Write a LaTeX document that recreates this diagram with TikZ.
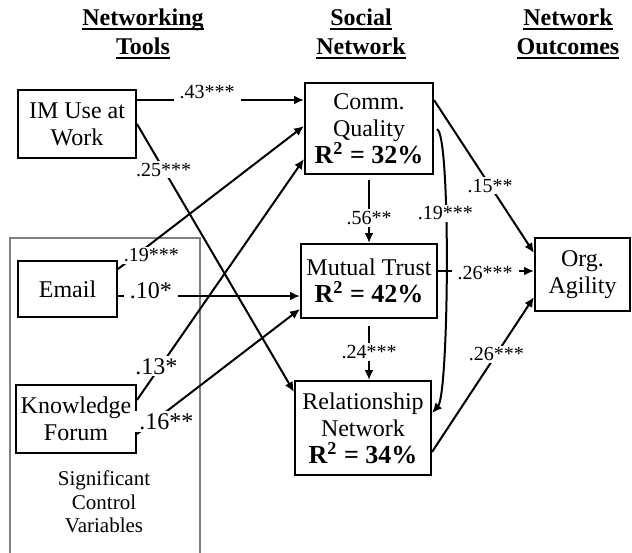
\documentclass[tikz,border=0pt]{standalone}
\usepackage{fontspec}
\setmainfont{Liberation Serif}
\usetikzlibrary{arrows.meta}

% heading underline, a bit heavier than \underline
\newcommand{\hdline}[1]{\setbox0\hbox{#1}\leavevmode\rlap{\rule[-2.2pt]{\wd0}{0.9pt}}\box0}
\newcommand{\rsq}[1]{{\fontsize{13}{15}\selectfont\bfseries R\textsuperscript{2} = #1\%}}

\tikzset{
  var/.style={draw,line width=1pt,align=center,inner sep=1pt,font=\fontsize{12}{13.5}\selectfont},
  link/.style={->,line width=1pt},
  coef/.style={fill=white,inner xsep=3pt,inner ysep=1pt,font=\fontsize{10}{11}\selectfont},
  coefbig/.style={coef,font=\fontsize{12}{13}\selectfont},
  head/.style={align=center,font=\bfseries\fontsize{12}{14.5}\selectfont}
}

\begin{document}
\begin{tikzpicture}[x=0.5pt,y=-0.5pt,>={Latex[length=5pt,width=4.5pt]}]
\path[use as bounding box] (0,0) rectangle (632,552);

% column headings
\node[head] (htools) at (143,34) {\hdline{Networking}\\\hdline{Tools}};
\node[head] (hsocial) at (361,34) {\hdline{Social}\\\hdline{Network}};
\node[head] (hout) at (568,34) {\hdline{Network}\\\hdline{Outcomes}};

% control variables frame
\draw[black!50,line width=1pt] (10,560) -- (10,238) -- (200,238) -- (200,560);
\node[align=center,font=\fontsize{10.5}{11.8}\selectfont] (ctrl) at (104,502) {Significant\\Control\\Variables};

% boxes
\node[var,minimum width=59pt,minimum height=34pt] (im) at (77,124) {IM Use at\\Work};
\node[var,minimum width=49.5pt,minimum height=28pt] (email) at (67.5,289) {Email};
\node[var,minimum width=60pt,minimum height=34pt] (forum) at (76,419) {Knowledge\\Forum};
\node[var,minimum width=64pt,minimum height=45.5pt] (comm) at (369,128.5) {Comm.\\Quality\\\rsq{32}};
\node[var,minimum width=68pt,minimum height=37pt] (trust) at (369,281) {Mutual Trust\\\rsq{42}};
\node[var,minimum width=68pt,minimum height=47pt] (rel) at (363,428) {Relationship\\Network\\\rsq{34}};
\node[var,minimum width=47.5pt,minimum height=36.5pt] (agil) at (582.5,274.5) {Org.\\Agility};

% tools -> social network
\draw[link] ([yshift=12pt]im.east) -- node[coef,pos=0.42,yshift=4pt] {.43***} ([yshift=14.25pt]comm.west);
\draw[link] (im.east) -- node[coef,pos=0.17] {.25***} ([yshift=18pt]rel.west);
\draw[link] ([yshift=10pt]email.east) -- node[coef,pos=0.18,yshift=-6pt] {.19***} ([yshift=1.25pt]comm.west);
\draw[link] ([yshift=-3.5pt]email.east) -- node[coefbig,pos=0.18,yshift=2.5pt] {.10*} ([yshift=-7.5pt]trust.west);
\draw[link] ([yshift=9.5pt]forum.east) -- node[coefbig,pos=0.14,xshift=-2pt] {.13*} ([yshift=-15.25pt]comm.west);
\draw[link] ([yshift=-7.5pt]forum.east) -- node[coefbig,pos=0.18,yshift=-5pt] {.16**} ([yshift=-14pt]trust.west);

% within the social network
\draw[link,shorten <=2.5pt] (comm.south) -- node[coef,pos=0.63] {.56**} (trust.north);
\draw[link,shorten <=3.5pt] (trust.south) -- node[coef,pos=0.54] {.24***} (trust.south |- rel.north);
\draw[link,shorten <=1.5pt] (comm.east) .. controls +(17,4) and +(17,-19) .. node[coef,pos=0.37] {.19***} ([yshift=7.5pt]rel.east);

% social network -> outcomes
\draw[link] ([yshift=14.25pt]comm.east) -- node[coef,pos=0.56] {.15**} ([yshift=10.75pt]agil.west);
\draw[link] ([yshift=5pt]trust.east) -- node[coef,pos=0.49,yshift=-1pt] {.26***} ([yshift=1.75pt]agil.west);
\draw[link] ([yshift=-12pt]rel.east) -- node[coef,pos=0.63] {.26***} ([yshift=-11.25pt]agil.west);
\end{tikzpicture}
\end{document}
